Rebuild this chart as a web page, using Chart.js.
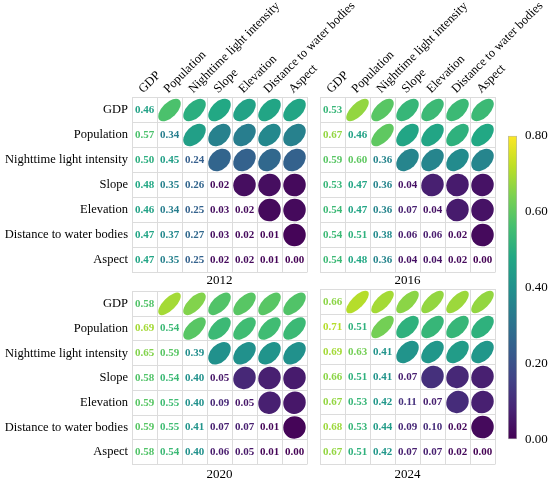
<!DOCTYPE html>
<html>
<head>
<meta charset="utf-8">
<script src="https://cdn.jsdelivr.net/npm/chart.js@4.4.1/dist/chart.umd.min.js"></script>
<style>
body { margin: 0; background: #fff; width: 550px; height: 482px; overflow: hidden; position: relative; }
canvas { position: absolute; }
</style>
</head>
<body>
<canvas id="p2012" style="left:0;top:0" width="370" height="292"></canvas>
<canvas id="p2016" style="left:318px;top:0" width="232" height="292"></canvas>
<canvas id="p2020" style="left:0;top:280px" width="370" height="202"></canvas>
<canvas id="p2024" style="left:318px;top:280px" width="200" height="202"></canvas>
<canvas id="colorbar" style="left:508px;top:120px" width="42" height="335"></canvas>
<script>
const variables = ['GDP', 'Population', 'Nighttime light intensity', 'Slope', 'Elevation', 'Distance to water bodies', 'Aspect'];

// lower triangle incl. diagonal, row by row
const values2012 = [
  [0.46],
  [0.57, 0.34],
  [0.50, 0.45, 0.24],
  [0.48, 0.35, 0.26, 0.02],
  [0.46, 0.34, 0.25, 0.03, 0.02],
  [0.47, 0.37, 0.27, 0.03, 0.02, 0.01],
  [0.47, 0.35, 0.25, 0.02, 0.02, 0.01, 0.00]
];
const values2016 = [
  [0.53],
  [0.67, 0.46],
  [0.59, 0.60, 0.36],
  [0.53, 0.47, 0.36, 0.04],
  [0.54, 0.47, 0.36, 0.07, 0.04],
  [0.54, 0.51, 0.38, 0.06, 0.06, 0.02],
  [0.54, 0.48, 0.36, 0.04, 0.04, 0.02, 0.00]
];
const values2020 = [
  [0.58],
  [0.69, 0.54],
  [0.65, 0.59, 0.39],
  [0.58, 0.54, 0.40, 0.05],
  [0.59, 0.55, 0.40, 0.09, 0.05],
  [0.59, 0.55, 0.41, 0.07, 0.07, 0.01],
  [0.58, 0.54, 0.40, 0.06, 0.05, 0.01, 0.00]
];
const values2024 = [
  [0.66],
  [0.71, 0.51],
  [0.69, 0.63, 0.41],
  [0.66, 0.51, 0.41, 0.07],
  [0.67, 0.53, 0.42, 0.11, 0.07],
  [0.68, 0.53, 0.44, 0.09, 0.10, 0.02],
  [0.67, 0.51, 0.42, 0.07, 0.07, 0.02, 0.00]
];

const colorTicks = [0, 0.2, 0.4, 0.6, 0.8];
const colorMax = 0.8;
const viridisStops = ['#440154', '#482475', '#414487', '#355f8d', '#2a788e', '#21918c', '#22a884', '#44bf70', '#7ad151', '#bddf26', '#fde725'];

const serif = 'Liberation Serif';
const gridColor = '#dcdcdc';

function hexRgb(h) {
  return [parseInt(h.slice(1, 3), 16), parseInt(h.slice(3, 5), 16), parseInt(h.slice(5, 7), 16)];
}

function viridis(t) {
  t = Math.min(1, Math.max(0, t));
  const p = t * (viridisStops.length - 1);
  const i = Math.min(Math.floor(p), viridisStops.length - 2);
  const f = p - i;
  const a = hexRgb(viridisStops[i]), b = hexRgb(viridisStops[i + 1]);
  const c = a.map((v, k) => Math.round(v + (b[k] - v) * f));
  return 'rgb(' + c.join(',') + ')';
}

// numbers: lower triangle + diagonal; ellipses: mirrored into the upper triangle
function cellPoints(vals, upper) {
  const pts = [];
  vals.forEach((row, i) => {
    row.forEach((v, j) => {
      if (upper) {
        if (j < i) pts.push({ x: variables[i], y: variables[j], v: v });
      } else {
        pts.push({ x: variables[j], y: variables[i], v: v });
      }
    });
  });
  return pts;
}

const corrMarks = {
  id: 'corrMarks',
  afterDatasetsDraw(chart) {
    const ctx = chart.ctx;
    const xs = chart.scales.x;
    const cell = Math.abs(xs.getPixelForValue(1) - xs.getPixelForValue(0));
    chart.data.datasets.forEach((ds, di) => {
      const meta = chart.getDatasetMeta(di);
      meta.data.forEach((el, k) => {
        const v = ds.data[k].v;
        ctx.save();
        ctx.fillStyle = viridis(v / colorMax);
        if (ds.mark === 'ellipse') {
          const r0 = cell * 0.45;
          ctx.beginPath();
          ctx.ellipse(el.x, el.y, r0 * Math.sqrt(1 + v), r0 * Math.sqrt(1 - v), -Math.PI / 4, 0, 2 * Math.PI);
          ctx.fill();
        } else {
          ctx.font = 'bold 11px "' + serif + '"';
          ctx.textAlign = 'center';
          ctx.textBaseline = 'middle';
          ctx.fillText(v.toFixed(2), el.x, el.y);
        }
        ctx.restore();
      });
    });
  }
};

function makePanel(id, vals, title, o) {
  new Chart(document.getElementById(id), {
    type: 'scatter',
    data: {
      datasets: [
        { mark: 'text', data: cellPoints(vals, false), pointRadius: 0 },
        { mark: 'ellipse', data: cellPoints(vals, true), pointRadius: 0 }
      ]
    },
    options: {
      responsive: false,
      animation: false,
      layout: { padding: { right: o.padRight } },
      plugins: { legend: { display: false }, tooltip: { enabled: false } },
      scales: {
        x: {
          type: 'category', labels: variables, position: 'top', offset: true,
          grid: { offset: true, color: gridColor, drawTicks: false },
          border: { color: gridColor },
          ticks: {
            display: o.showX, autoSkip: false, minRotation: 45, maxRotation: 45, padding: 1, labelOffset: 7,
            color: '#000', font: { family: serif, size: 12.5 }
          },
          afterFit(s) { s.height = o.topH; }
        },
        x2: {
          type: 'category', labels: variables, position: 'bottom', offset: true,
          grid: { display: false }, border: { display: false }, ticks: { display: false },
          title: { display: true, text: title, color: '#000', font: { family: serif, size: 13 }, padding: { top: 0, bottom: o.titlePad } },
          afterFit(s) { s.height = o.botH; }
        },
        y: {
          type: 'category', labels: variables, offset: true,
          grid: { offset: true, color: gridColor, drawTicks: false },
          border: { color: gridColor },
          ticks: { display: o.showY, autoSkip: false, padding: 4, color: '#000', font: { family: serif, size: 12.5 } },
          afterFit(s) { s.width = o.leftW; }
        }
      }
    },
    plugins: [corrMarks]
  });
}

makePanel('p2012', values2012, '2012', { showX: true, showY: true, topH: 97.5, botH: 19.5, leftW: 132, padRight: 63, titlePad: 4 });
makePanel('p2016', values2016, '2016', { showX: true, showY: false, topH: 97.5, botH: 19.5, leftW: 2, padRight: 55, titlePad: 4 });
makePanel('p2020', values2020, '2020', { showX: false, showY: true, topH: 9.5, botH: 17.5, leftW: 132, padRight: 63, titlePad: 0 });
makePanel('p2024', values2024, '2024', { showX: false, showY: false, topH: 9.5, botH: 17.5, leftW: 2, padRight: 23, titlePad: 0 });

new Chart(document.getElementById('colorbar'), {
  type: 'bar',
  data: {
    labels: [''],
    datasets: [{
      data: [[colorTicks[0], colorMax]],
      backgroundColor(c) {
        const a = c.chart.chartArea;
        if (!a) return viridisStops[5];
        const g = c.chart.ctx.createLinearGradient(0, a.bottom, 0, a.top);
        viridisStops.forEach((s, i) => g.addColorStop(i / (viridisStops.length - 1), s));
        return g;
      },
      borderColor: '#b4b4b4', borderWidth: 1, borderSkipped: false,
      barPercentage: 1, categoryPercentage: 1
    }]
  },
  options: {
    responsive: false,
    animation: false,
    layout: { padding: { top: 7, bottom: 8 } },
    plugins: { legend: { display: false }, tooltip: { enabled: false } },
    scales: {
      x: { display: false },
      y: {
        position: 'right', min: 0, max: colorMax,
        grid: { display: false, drawTicks: false }, border: { display: false },
        afterBuildTicks(s) { s.ticks = colorTicks.map(v => ({ value: v })); },
        ticks: { padding: 8, color: '#000', font: { family: serif, size: 13 }, callback: v => v.toFixed(2) },
        afterFit(s) { s.width = 33; }
      }
    }
  }
});
</script>
</body>
</html>
